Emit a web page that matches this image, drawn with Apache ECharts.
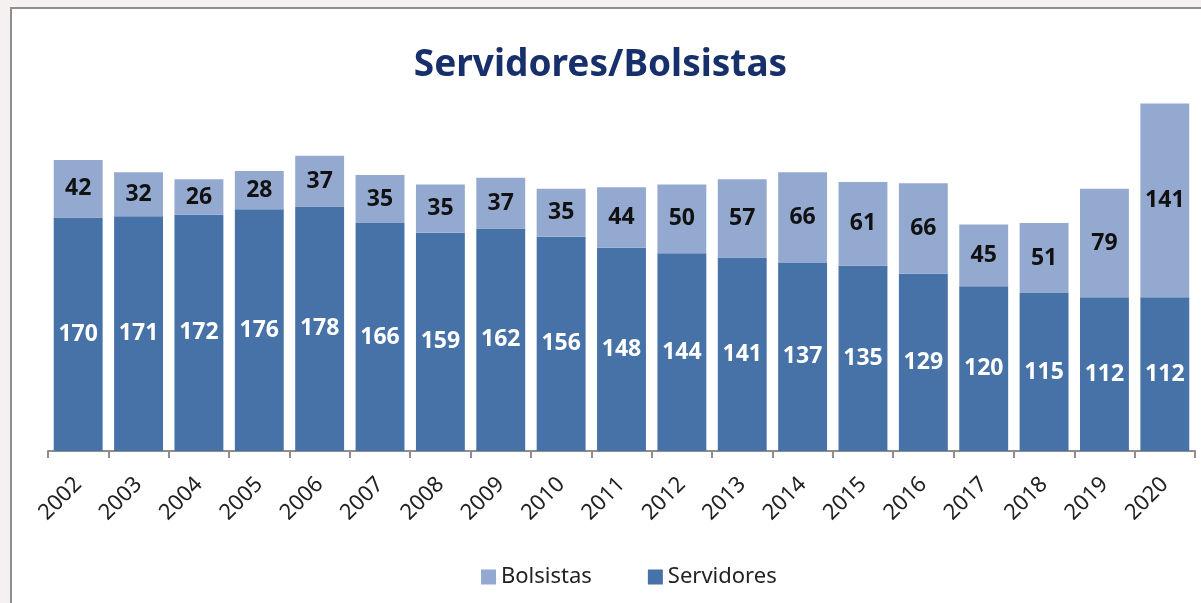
<!DOCTYPE html>
<html>
<head>
<meta charset="utf-8">
<script src="https://cdn.jsdelivr.net/npm/echarts@6/dist/echarts.min.js"></script>
<style>
  html, body { margin: 0; padding: 0; width: 1201px; height: 603px; overflow: hidden; background: #f6f1f1; }
  #frame { position: absolute; left: 10px; top: 7px; width: 1300px; height: 700px; background: #fff; border: 2px solid #8e8e8e; }
  #main { position: absolute; left: 0; top: 0; width: 1201px; height: 603px; }
</style>
</head>
<body>
<div id="frame"></div>
<div id="main"></div>
<script>
  var anos = ['2002','2003','2004','2005','2006','2007','2008','2009','2010','2011','2012','2013','2014','2015','2016','2017','2018','2019','2020'];
  var servidores = [170,171,172,176,178,166,159,162,156,148,144,141,137,135,129,120,115,112,112];
  var bolsistas = [42,32,26,28,37,35,35,37,35,44,50,57,66,61,66,45,51,79,141];

  var myChart = echarts.init(document.getElementById('main'));
  var fonte = '"Noto Sans", "Open Sans", sans-serif';
  myChart.setOption({
    animation: false,
    title: {
      text: 'Servidores/Bolsistas',
      left: 'center',
      top: 42,
      textStyle: { color: '#172f6a', fontSize: 37, fontWeight: 'bold', fontFamily: fonte }
    },
    legend: {
      data: ['Bolsistas', 'Servidores'],
      bottom: 10,
      left: 476,
      itemWidth: 15,
      itemHeight: 15,
      itemGap: 56,
      icon: 'rect',
      textStyle: { color: '#222', fontSize: 22, fontFamily: fonte }
    },
    grid: { left: 48, right: 6, top: 94, bottom: 152 },
    xAxis: {
      type: 'category',
      data: anos,
      axisLine: { lineStyle: { color: '#8e8e8e', width: 2 } },
      axisTick: { show: true, length: 7, lineStyle: { color: '#8e8e8e', width: 2 } },
      axisLabel: { rotate: 45, margin: 30, color: '#222', fontSize: 22, fontFamily: fonte }
    },
    yAxis: { type: 'value', min: 0, max: 260, show: false },
    series: [
      {
        name: 'Servidores',
        type: 'bar',
        stack: 'total',
        barCategoryGap: '19%',
        itemStyle: { color: '#4672a7' },
        label: { show: true, position: 'inside', color: '#fff', fontSize: 23, fontWeight: 'bold', fontFamily: fonte },
        data: servidores
      },
      {
        name: 'Bolsistas',
        type: 'bar',
        stack: 'total',
        itemStyle: { color: '#94a9d0' },
        label: { show: true, position: 'inside', color: '#111', fontSize: 23, fontWeight: 'bold', fontFamily: fonte },
        data: bolsistas
      }
    ]
  });
</script>
</body>
</html>
